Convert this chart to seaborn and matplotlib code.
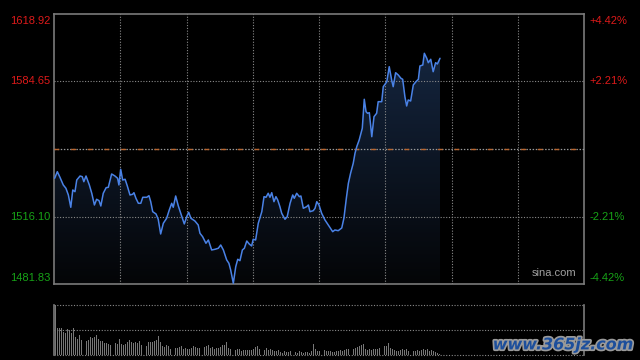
import numpy as np
import matplotlib
matplotlib.use("Agg")
import matplotlib.pyplot as plt
import matplotlib.patheffects as pe
from matplotlib.colors import LinearSegmentedColormap
import seaborn as sns

# ---------------- DATA ----------------
prev_close = 1550.38
price_ticks = [1618.92, 1584.65, 1516.10, 1481.83]
pct_labels = ["+4.42%", "+2.21%", "-2.21%", "-4.42%"]

minutes = [0.3, 1.5, 2.7, 4.2, 5.4, 6.5, 7.6, 8.5, 9.5, 10.3, 11.8, 12.8, 13.5, 14.5,
           16.0, 17.1, 18.3, 19.3, 20.4, 21.2, 22.3, 23.6, 24.6, 26.1, 27.6, 28.8,
           29.4, 30.2, 31.1, 32.2, 33.2, 34.4, 35.6, 36.2, 37.1, 38.2, 39.3, 40.2,
           42.0, 43.0, 43.8, 44.7, 46.2, 47.2, 48.3, 49.5, 51.0, 52.2, 53.3, 54.0,
           55.1, 56.3, 57.4, 59.0, 60.1, 61.0, 62.0, 63.8, 65.3, 66.1, 67.3, 68.8,
           69.9, 71.4, 72.9, 74.4, 75.5, 76.7, 78.2, 79.2, 80.0, 81.2, 82.3, 83.2,
           84.2, 85.3, 86.2, 87.3, 88.4, 89.5, 90.2, 91.3, 92.5, 94.1, 95.1, 96.0,
           97.0, 97.8, 98.6, 99.6, 100.5, 101.3, 102.3, 103.1, 104.6, 105.6, 106.9,
           108.1, 108.8, 109.9, 111.1, 111.8, 112.9, 114.4, 115.2, 115.9, 117.4,
           118.2, 119.0, 120.0, 121.2, 122.7, 124.2, 126.2, 127.2, 128.7, 130.3,
           131.3, 132.4, 133.3, 134.3, 135.5, 136.3, 137.1, 138.2, 139.6, 140.5,
           141.3, 142.0, 142.8, 143.9, 144.9, 146.1, 146.8, 148.4, 149.1, 150.7,
           151.8, 152.9, 153.6, 154.7, 155.9, 157.1, 157.9, 158.9, 159.7, 160.4,
           161.5, 162.7, 163.9, 165.0, 165.7, 167.0, 167.7, 168.8, 169.5, 170.6,
           171.7, 172.8, 173.6, 174.8]

prices = [1535.51, 1538.86, 1536.01, 1532.11, 1530.43, 1527.03, 1520.78, 1529.57,
          1528.70, 1534.64, 1536.67, 1536.32, 1533.78, 1536.67, 1532.11, 1527.89,
          1521.95, 1524.85, 1524.13, 1521.44, 1527.89, 1530.74, 1530.94, 1537.69,
          1536.67, 1535.51, 1532.11, 1540.08, 1534.64, 1535.00, 1531.60, 1527.03,
          1527.38, 1528.20, 1525.35, 1522.81, 1522.81, 1525.86, 1525.86, 1526.67,
          1523.63, 1518.55, 1517.38, 1514.69, 1507.23, 1512.66, 1515.20, 1519.41,
          1522.81, 1520.78, 1526.52, 1521.44, 1517.74, 1512.31, 1516.01, 1518.25,
          1515.20, 1513.83, 1511.80, 1507.58, 1505.86, 1502.51, 1504.18, 1499.10,
          1499.46, 1499.97, 1501.64, 1499.10, 1494.03, 1492.35, 1488.95, 1482.20,
          1490.63, 1494.38, 1493.67, 1499.10, 1499.97, 1503.67, 1502.15, 1501.14,
          1504.54, 1504.18, 1512.66, 1518.55, 1526.17, 1525.86, 1527.89, 1525.86,
          1528.20, 1523.63, 1526.17, 1524.49, 1521.09, 1517.74, 1514.69, 1516.01,
          1522.81, 1527.03, 1525.35, 1527.89, 1526.17, 1526.52, 1520.28, 1521.09,
          1521.95, 1518.55, 1519.06, 1520.28, 1523.63, 1521.95, 1517.74, 1514.34,
          1511.80, 1508.40, 1509.26, 1508.90, 1510.27, 1515.35, 1525.51, 1532.97,
          1538.05, 1543.12, 1548.20, 1551.55, 1554.95, 1560.89, 1575.62, 1569.32,
          1568.51, 1568.81, 1556.63, 1566.78, 1568.51, 1574.40, 1574.40, 1582.01,
          1584.55, 1592.17, 1585.41, 1582.01, 1589.12, 1587.95, 1586.28, 1585.77,
          1576.94, 1572.21, 1575.26, 1574.75, 1582.88, 1584.55, 1585.77, 1592.52,
          1593.03, 1598.97, 1596.43, 1594.20, 1595.92, 1589.63, 1594.20, 1593.54,
          1596.43]

volume = [149, 79, 79, 79, 68, 65, 78, 75, 64, 80, 53, 48, 59, 44, 48, 41, 45, 53,
          50, 53, 59, 47, 41, 41, 35, 35, 32, 29, 38, 35, 32, 47, 32, 29, 32, 38,
          44, 38, 35, 38, 35, 41, 29, 26, 26, 38, 38, 38, 41, 44, 56, 38, 26, 23,
          29, 26, 17, 26, 20, 20, 23, 26, 17, 20, 17, 17, 20, 26, 23, 20, 20, 26,
          23, 26, 29, 20, 23, 17, 20, 20, 23, 29, 29, 38, 20, 17, 17, 14, 17, 17,
          11, 15, 15, 15, 13, 15, 18, 23, 25, 18, 25, 15, 21, 13, 16, 13, 10, 11,
          13, 8, 6, 10, 8, 8, 10, 6, 8, 5, 10, 8, 5, 8, 7, 5, 10, 31, 18, 10, 10,
          10, 13, 10, 10, 10, 8,
          8, 11, 11, 14, 11, 14, 17, 17, 17, 17, 20, 23, 26, 29, 32, 17, 14, 17,
          14, 17, 17, 17, 20, 23, 26, 26, 35, 20, 17, 14, 11, 11, 14, 17, 14, 17,
          11, 11, 11, 11, 14, 11, 14, 17, 14, 17, 11, 14, 11, 8, 5, 3]

# ---------------- STYLE ----------------
sns.set_style("dark")
plt.rcParams['font.family'] = ['Liberation Sans', 'DejaVu Sans']

RED = "#dd1a1a"
GREEN = "#17a317"
GRID = "#8a8a8a"
BORDER = "#7a7a7a"
LINE = "#4a82e6"

fig = plt.figure(figsize=(6.4, 3.6), dpi=100, facecolor="black")
ax = fig.add_axes([54 / 640, 1 - 284 / 360, 530 / 640, 270 / 360])
ax_v = fig.add_axes([54 / 640, 1 - 354.5 / 360, 530 / 640, 49.5 / 360])

ymin, ymax = price_ticks[-1], price_ticks[0]

# ---------------- PRICE ----------------
ax.set_facecolor("black")
sns.lineplot(x=minutes, y=prices, ax=ax, color=LINE, linewidth=1.1, zorder=4)

poly = ax.fill_between(minutes, prices, ymin, color="none", linewidth=0)
cmap = LinearSegmentedColormap.from_list("fill", ["#040507", "#172a47"])
grad = ax.imshow(np.linspace(1, 0, 256).reshape(-1, 1), cmap=cmap, aspect="auto",
                 extent=[0, 240, ymin, ymax], origin="upper", zorder=2)
grad.set_clip_path(poly.get_paths()[0], transform=ax.transData)

ax.set_xlim(0, 240)
ax.set_ylim(ymin, ymax)

for m in range(30, 240, 30):
    ax.axvline(m, color=GRID, linewidth=0.8, linestyle=(0, (1, 1.5)), zorder=3)
for v in (price_ticks[1], price_ticks[2]):
    ax.axhline(v, color=GRID, linewidth=0.8, linestyle=(0, (1, 1.5)), zorder=3)
# previous close: gray dots with dim orange dashes
ax.axhline(prev_close, color="#9a9a9a", linewidth=0.9, linestyle=(0, (1.2, 1.3)), zorder=3)
ax.axhline(prev_close, color="#b8652f", linewidth=1.0, linestyle=(0, (3.5, 8.5)), zorder=3)

ax.set_xticks([])
ax.set_yticks([])
ax.grid(False)
for s in ax.spines.values():
    s.set_visible(True)
    s.set_color(BORDER)
    s.set_linewidth(1.2)

# axis labels (left price, right percent)
offsets = [-5, 0, 0, 4.5]
for v, pl, off in zip(price_ticks, pct_labels, offsets):
    col = RED if v > prev_close else GREEN
    ax.annotate(f"{v:.2f}", xy=(0, v), xycoords=("axes fraction", "data"),
                xytext=(-2.5, off), textcoords="offset points", ha="right",
                va="center", color=col, fontsize=8)
    ax.annotate(pl, xy=(1, v), xycoords=("axes fraction", "data"),
                xytext=(4, off), textcoords="offset points", ha="left",
                va="center", color=col, fontsize=8)

ax.text(0.985, 0.022, "sina.com", transform=ax.transAxes, ha="right", va="bottom",
        color="#a0a0a0", fontsize=8, zorder=5)

# ---------------- VOLUME ----------------
ax_v.set_facecolor("black")
n = len(volume)
sns.barplot(x=np.arange(n), y=volume, ax=ax_v, color="#777777", width=0.45,
            saturation=1, linewidth=0, zorder=3)
ax_v.set_xlim(-0.5, n * 530 / 387 - 0.5)
ax_v.set_ylim(0, max(volume))
for v in (0, max(volume) / 2, max(volume)):
    ax_v.axhline(v, color=GRID, linewidth=0.8, linestyle=(0, (1, 1.5)), zorder=2,
                 clip_on=False)
ax_v.set_xticks([])
ax_v.set_yticks([])
ax_v.set_xlabel("")
ax_v.set_ylabel("")
ax_v.grid(False)
for side in ("top", "bottom"):
    ax_v.spines[side].set_visible(False)
for side in ("left", "right"):
    ax_v.spines[side].set_visible(True)
    ax_v.spines[side].set_color(BORDER)
    ax_v.spines[side].set_linewidth(1.2)

# watermark
fig.text(0.99, 0.042, "www.365jz.com", ha="right", va="center", fontsize=11.5,
         fontweight="bold", fontstyle="italic", color="#1d4f9c",
         family="DejaVu Sans",
         path_effects=[pe.withStroke(linewidth=2.5, foreground="#9a9a9a")])

fig.savefig("out.png", dpi=100, facecolor="black")
